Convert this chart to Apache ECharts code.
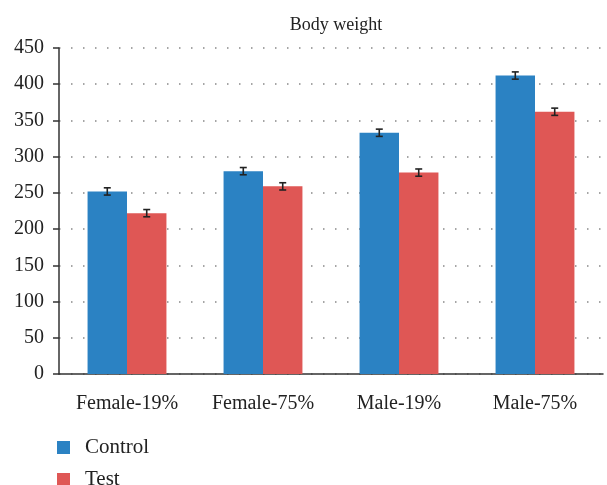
<!DOCTYPE html>
<html style="height: 100%">
<head>
    <meta charset="utf-8">
    <title>Body weight</title>
    <script src="https://cdn.jsdelivr.net/npm/echarts@6/dist/echarts.min.js"></script>
</head>
<body style="height: 100%; margin: 0">
<div id="main" style="width: 607px; height: 485px"></div>
<script type="text/javascript">
    var categories = ['Female-19%', 'Female-75%', 'Male-19%', 'Male-75%'];
    var controlValues = [252, 280, 333, 412];
    var testValues = [222, 259, 278, 362];
    var controlErrors = [5, 5, 5, 5];
    var testErrors = [5, 5, 5, 5];
    var yTicks = [0, 50, 100, 150, 200, 250, 300, 350, 400, 450];

    var font = 'Liberation Serif';
    var gapPct = 0.42;

    function errorData(vals, errs) {
        var res = [];
        for (var i = 0; i < vals.length; i++) {
            res.push([i, vals[i] - errs[i], vals[i] + errs[i]]);
        }
        return res;
    }

    function errorRenderer(side) {
        return function (params, api) {
            var band = api.size([1, 0])[0];
            var shift = side * band * (1 - gapPct) / 4;
            var lo = api.coord([api.value(0), api.value(1)]);
            var hi = api.coord([api.value(0), api.value(2)]);
            var x = lo[0] + shift;
            var cap = 3.5;
            var st = { stroke: '#222', lineWidth: 1.6 };
            return {
                type: 'group',
                children: [
                    { type: 'line', shape: { x1: x, y1: lo[1], x2: x, y2: hi[1] }, style: st },
                    { type: 'line', shape: { x1: x - cap, y1: lo[1], x2: x + cap, y2: lo[1] }, style: st },
                    { type: 'line', shape: { x1: x - cap, y1: hi[1], x2: x + cap, y2: hi[1] }, style: st }
                ]
            };
        };
    }

    var myChart = echarts.init(document.getElementById('main'));
    var option = {
        backgroundColor: '#fff',
        title: {
            text: 'Body weight',
            left: 331,
            top: 11,
            textAlign: 'center',
            textStyle: { fontFamily: font, fontWeight: 'normal', fontSize: 18, color: '#222' }
        },
        legend: {
            orient: 'vertical',
            left: 57,
            top: 437,
            height: 100,
            padding: 0,
            itemWidth: 13,
            itemHeight: 13,
            itemGap: 11,
            icon: 'rect',
            data: ['Control', 'Test'],
            textStyle: { fontFamily: font, fontSize: 21, lineHeight: 21, color: '#222', padding: [0, 0, 0, 10] }
        },
        grid: { left: 59, right: 4, top: 48, bottom: 111 },
        xAxis: {
            type: 'category',
            data: categories,
            axisLine: { lineStyle: { color: '#333', width: 1.5 } },
            axisTick: { length: 6, lineStyle: { color: '#333', width: 1.5 } },
            axisLabel: { fontFamily: font, fontSize: 20, color: '#222', margin: 20 }
        },
        yAxis: {
            type: 'value',
            min: 0,
            max: 450,
            interval: 50,
            axisLine: { show: true, lineStyle: { color: '#333', width: 1.5 } },
            axisTick: { show: true, length: 6, lineStyle: { color: '#333', width: 1.5 } },
            axisLabel: {
                fontFamily: font, fontSize: 20, color: '#222', margin: 15,
                formatter: function (v) { return yTicks.indexOf(v) >= 0 ? String(v) : ''; }
            },
            splitLine: { show: true, lineStyle: { color: '#888', type: [1.5, 10.5], width: 1.5 } }
        },
        series: [
            {
                name: 'Control',
                type: 'bar',
                data: controlValues,
                barGap: '0%',
                barCategoryGap: (gapPct * 100) + '%',
                itemStyle: { color: '#2b82c3' }
            },
            {
                name: 'Test',
                type: 'bar',
                data: testValues,
                itemStyle: { color: '#df5755' }
            },
            {
                type: 'custom',
                renderItem: errorRenderer(-1),
                data: errorData(controlValues, controlErrors),
                encode: { x: 0, y: [1, 2] },
                z: 10
            },
            {
                type: 'custom',
                renderItem: errorRenderer(1),
                data: errorData(testValues, testErrors),
                encode: { x: 0, y: [1, 2] },
                z: 10
            }
        ]
    };
    myChart.setOption(option);
</script>
</body>
</html>
